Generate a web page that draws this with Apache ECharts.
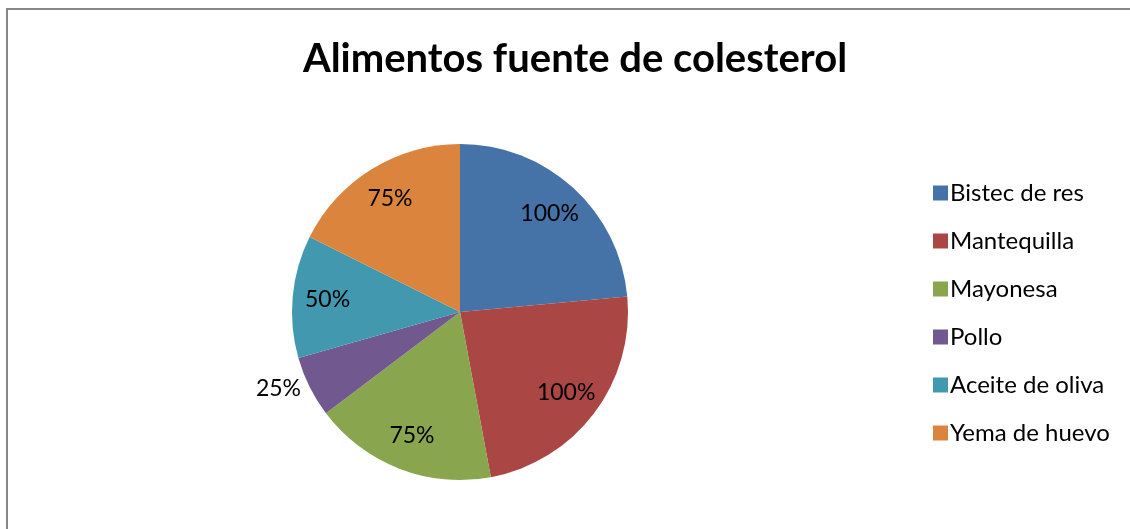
<!DOCTYPE html>
<html>
<head>
<meta charset="utf-8">
<script src="https://cdn.jsdelivr.net/npm/echarts@6/dist/echarts.min.js"></script>
<style>
html,body{margin:0;padding:0;background:#fff;}
#chart{width:1130px;height:529px;}
</style>
</head>
<body>
<div id="chart"></div>
<script>
var categories = ['Bistec de res', 'Mantequilla', 'Mayonesa', 'Pollo', 'Aceite de oliva', 'Yema de huevo'];
var values = [100, 100, 75, 25, 50, 75];
var colors = ['#4572A7', '#AA4643', '#89A54E', '#71588F', '#4198AF', '#DB843D'];
var outsideLabels = ['Pollo'];

var font = 'Lato, "Open Sans", sans-serif';
var chart = echarts.init(document.getElementById('chart'));

var mainData = categories.map(function (c, i) {
	var outside = outsideLabels.indexOf(c) >= 0;
	return {
		name: c,
		value: values[i],
		itemStyle: { color: colors[i] },
		label: { show: outside }
	};
});
var labelData = categories.map(function (c, i) {
	return {
		name: c,
		value: values[i],
		label: { show: outsideLabels.indexOf(c) < 0 }
	};
});

var option = {
	animation: false,
	backgroundColor: '#fff',
	title: {
		text: 'Alimentos fuente de colesterol',
		left: 570,
		textAlign: 'center',
		top: 34,
		textStyle: {
			fontFamily: font,
			fontWeight: 'bold',
			fontSize: 40,
			color: '#000'
		}
	},
	legend: {
		orient: 'vertical',
		left: 928,
		top: 176,
		icon: 'rect',
		itemWidth: 15,
		itemHeight: 15,
		itemGap: 24,
		data: categories,
		textStyle: {
			fontFamily: font,
			fontSize: 24,
			color: '#000',
			lineHeight: 24,
			padding: [0, 0, 0, -3]
		}
	},
	graphic: [{
		type: 'rect',
		shape: { x: 7, y: 9, width: 1200, height: 600 },
		style: { fill: 'none', stroke: '#878787', lineWidth: 2 },
		silent: true
	}],
	series: [{
		type: 'pie',
		center: [460, 312],
		radius: [0, 168],
		startAngle: 90,
		clockwise: true,
		data: mainData,
		itemStyle: { borderWidth: 0 },
		label: {
			position: 'outside',
			formatter: '{c}%',
			fontFamily: font,
			fontSize: 23,
			color: '#000'
		},
		labelLine: { show: false, length: 4, length2: 0 },
		emphasis: { disabled: true }
	}, {
		type: 'pie',
		center: [460, 312],
		radius: [92, 168],
		startAngle: 90,
		clockwise: true,
		silent: true,
		data: labelData,
		itemStyle: { color: 'rgba(0,0,0,0)' },
		label: {
			position: 'inside',
			formatter: '{c}%',
			fontFamily: font,
			fontSize: 23,
			color: '#000'
		},
		labelLine: { show: false },
		emphasis: { disabled: true },
		legendHoverLink: false
	}]
};
chart.setOption(option);
</script>
</body>
</html>
